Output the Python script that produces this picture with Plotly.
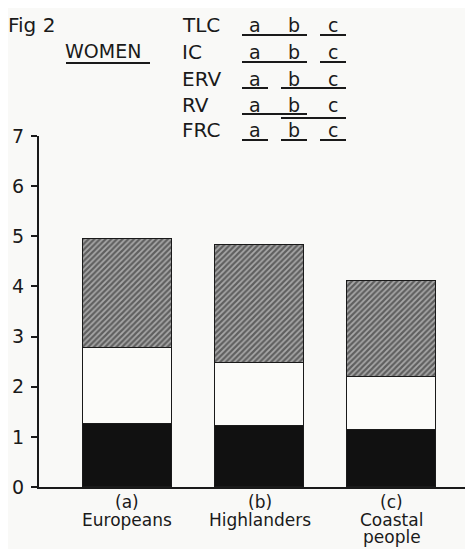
import plotly.graph_objects as go

# ---- data ----
categories = ["Europeans", "Highlanders", "Coastal people"]
tick_labels = [["(a)", "Europeans"], ["(b)", "Highlanders"], ["(c)", "Coastal", "people"]]
rv = [1.26, 1.22, 1.13]      # black (residual volume)
erv = [1.52, 1.26, 1.07]     # white (expiratory reserve volume)
ic = [2.16, 2.35, 1.90]      # hatched (inspiratory capacity)
y_ticks = [0, 1, 2, 3, 4, 5, 6, 7]

# significance groupings (letters joined by a common underline)
table_rows = ["TLC", "IC", "ERV", "RV", "FRC"]
table_groups = [
    [["a", "b"], ["c"]],
    [["a", "b"], ["c"]],
    [["a"], ["b", "c"]],
    [["a", "b"], ["b", "c"]],
    [["a"], ["b"], ["c"]],
]

FONT = "DejaVu Sans"
INK = "#1a1a1a"

fig = go.Figure()
fig.add_trace(go.Bar(x=categories, y=rv, marker=dict(color="#111111", line=dict(color=INK, width=1.5)),
                     width=0.67, name="RV"))
fig.add_trace(go.Bar(x=categories, y=erv, marker=dict(color="#fbfbf9", line=dict(color=INK, width=1.5)),
                     width=0.67, name="ERV"))
fig.add_trace(go.Bar(x=categories, y=ic,
                     marker=dict(color="#555555", line=dict(color=INK, width=1.5),
                                 pattern=dict(shape="/", fgcolor="#161616", bgcolor="#a8a8a8",
                                              size=4, solidity=0.55)),
                     width=0.67, name="IC"))

# page has an 8px body margin: the figure is drawn at (8, 8)
PAGE_OFF = 8
PAGE_W, PAGE_H = 473, 549
WIDTH, HEIGHT = PAGE_W - PAGE_OFF, PAGE_H - PAGE_OFF
AX_L, AX_R, AX_T, AX_B = 39, 470, 136, 487   # plot area in page pixels
L = AX_L - PAGE_OFF
T = AX_T - PAGE_OFF
R = PAGE_W - AX_R
B = PAGE_H - AX_B
PW, PH = AX_R - AX_L, AX_B - AX_T


def px(x):
    return (x - AX_L) / PW


def py(y):
    return (AX_B - y) / PH


annotations = []
shapes = []

def text(x, y, s, size, anchor="left", xref="paper"):
    annotations.append(dict(x=px(x) if xref == "paper" else x, y=py(y), xref=xref, yref="paper", text=s,
                            showarrow=False, xanchor=anchor, yanchor="middle",
                            font=dict(family=FONT, size=size, color=INK)))

def hline(x0, x1, y, w=2):
    shapes.append(dict(type="line", xref="paper", yref="paper", x0=px(x0), x1=px(x1),
                       y0=py(y), y1=py(y), line=dict(color=INK, width=w)))

text(6, 25, "Fig 2", 20)
text(63, 51, "WOMEN", 19)
hline(66, 150, 63)

row_y = [25, 52, 79, 105, 130]
line_y = [35, 62, 88, 114, 140]
col_x = {"a": 255, "b": 294, "c": 333}
half = 13
for r, (lab, groups) in enumerate(zip(table_rows, table_groups)):
    text(180, row_y[r], lab, 20)
    for k, c in col_x.items():
        text(c, row_y[r], k, 19, anchor="center")
    for g_i, g in enumerate(groups):
        offset = 4 if (lab == "RV" and g_i == 1) else 0
        hline(col_x[g[0]] - half, col_x[g[-1]] + half, line_y[r] + offset)

# category labels (stacked lines, tight spacing)
label_y = [502, 520, 537]
for cat, lines in zip(categories, tick_labels):
    for i, s in enumerate(lines):
        text(cat, label_y[i], s, 17, anchor="center", xref="x")

fig.update_layout(
    width=WIDTH, height=HEIGHT,
    margin=dict(l=L, r=R, t=T, b=B),
    paper_bgcolor="#f9f9f7", plot_bgcolor="#f9f9f7",
    barmode="stack", showlegend=False, bargap=0,
    annotations=annotations, shapes=shapes,
    font=dict(family=FONT, color=INK),
)
fig.update_yaxes(range=[0, 7], tickvals=y_ticks, ticktext=[str(v) for v in y_ticks],
                 showgrid=False, zeroline=False, showline=True, linecolor=INK, linewidth=2,
                 ticks="outside", ticklen=6, tickwidth=2, tickcolor=INK, automargin=False,
                 ticklabelstandoff=3, tickfont=dict(family=FONT, size=19))
fig.update_xaxes(range=[-0.668, 2.592], showticklabels=False, automargin=False,
                 showgrid=False, zeroline=False, showline=True, linecolor=INK, linewidth=2,
                 ticks="")

fig.write_html("out.html")
